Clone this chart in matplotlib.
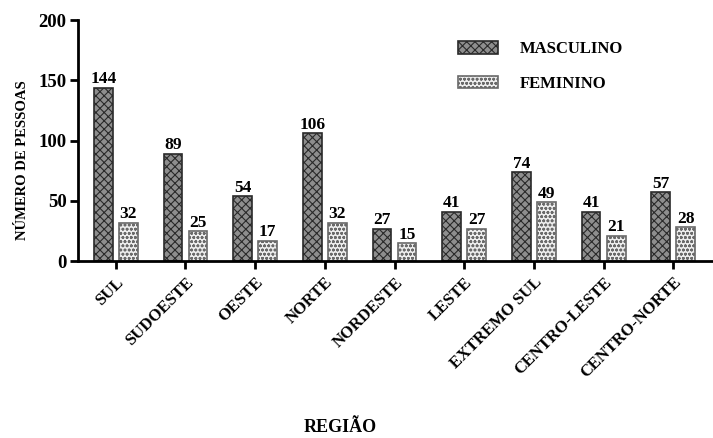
import numpy as np
import matplotlib
matplotlib.use("Agg")
import matplotlib.pyplot as plt

REGIONS = ["SUL", "SUDOESTE", "OESTE", "NORTE", "NORDESTE", "LESTE",
           "EXTREMO SUL", "CENTRO-LESTE", "CENTRO-NORTE"]
MASCULINO = [144, 89, 54, 106, 27, 41, 74, 41, 57]
FEMININO = [32, 25, 17, 32, 15, 27, 49, 21, 28]

plt.rcParams["font.family"] = ["Liberation Serif", "DejaVu Serif"]
plt.rcParams["font.weight"] = "bold"
plt.rcParams["hatch.linewidth"] = 0.8

fig = plt.figure(figsize=(7.13, 4.38), dpi=100)
ax = fig.add_axes([0.109, 0.404, 0.891, 0.55])

x = np.arange(len(REGIONS))
w = 0.27
off = 0.18

# masculino: dark crosshatch, feminino: light wavy pattern
b1 = ax.bar(x - off, MASCULINO, w, color="#8e8e8e", edgecolor="#2a2a2a",
            hatch="xxxx", linewidth=1.2, label="MASCULINO")
b2 = ax.bar(x + off, FEMININO, w, color="#eeeeee", edgecolor="#6a6a6a",
            hatch="oooo", linewidth=1.2, label="FEMININO")

for bars, vals in [(b1, MASCULINO), (b2, FEMININO)]:
    for bar, v in zip(bars, vals):
        ax.text(bar.get_x() + bar.get_width() / 2, bar.get_height() + 0.3, str(v),
                ha="center", va="bottom", fontsize=12.5, fontweight="bold")

ax.set_xlim(-0.546, 8.57)
ax.set_ylim(0, 200)
ax.set_yticks([0, 50, 100, 150, 200])
ax.set_xticks(x)
ax.set_xticklabels(REGIONS, rotation=45, ha="right", rotation_mode="anchor",
                   fontsize=12, fontweight="bold")
ax.tick_params(axis="y", labelsize=13.5, width=2, length=6, pad=2)
ax.tick_params(axis="x", width=2, length=6)
for lab in ax.get_yticklabels():
    lab.set_fontweight("bold")

for side in ["top", "right"]:
    ax.spines[side].set_visible(False)
for side in ["left", "bottom"]:
    ax.spines[side].set_linewidth(2)

ax.set_ylabel("NÚMERO DE PESSOAS", fontsize=10.5, fontweight="bold")
ax.yaxis.set_label_coords(-0.076, 0.42)
fig.text(0.477, 0.005, "REGIÃO", ha="center", va="bottom", fontsize=13, fontweight="bold")

ax.legend(loc="upper left", bbox_to_anchor=(0.575, 0.975), frameon=False,
          prop={"size": 12, "weight": "bold"}, handlelength=2.4, handleheight=0.8,
          labelspacing=1.1, handletextpad=1.3)

plt.savefig("out.png", dpi=100)
plt.close()
